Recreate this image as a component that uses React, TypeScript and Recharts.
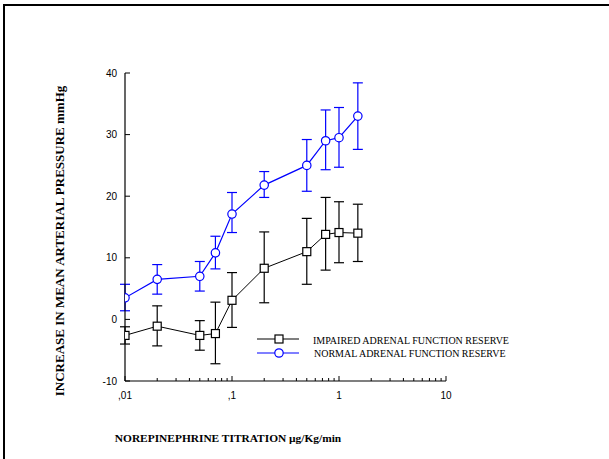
import React from 'react';
import { ComposedChart, Line, XAxis, YAxis, ErrorBar } from 'recharts';

const doses = [0.01, 0.02, 0.05, 0.07, 0.1, 0.2, 0.5, 0.75, 1, 1.5];

const normalMean = [3.5, 6.5, 7.0, 10.8, 17.1, 21.8, 25.0, 29.0, 29.5, 33.0];
const normalErrLow = [2.1, 2.4, 2.4, 2.6, 3.0, 2.0, 4.2, 4.7, 4.8, 5.4];
const normalErrHigh = [2.2, 2.4, 2.4, 2.7, 3.5, 2.2, 4.2, 5.0, 4.9, 5.4];

const impairedMean = [-2.6, -1.1, -2.6, -2.3, 3.1, 8.3, 11.0, 13.8, 14.1, 14.0];
const impairedErrLow = [1.4, 3.2, 2.4, 4.9, 4.4, 5.6, 5.3, 5.8, 4.9, 4.6];
const impairedErrHigh = [1.4, 3.3, 2.4, 5.1, 4.5, 5.9, 5.4, 6.0, 5.0, 4.7];

const xMajorTicks = [0.01, 0.1, 1, 10];
const xTickLabels = [',01', ',1', '1', '10'];
const xMinorTicks = [
  0.02, 0.03, 0.04, 0.05, 0.06, 0.07, 0.08, 0.09,
  0.2, 0.3, 0.4, 0.5, 0.6, 0.7, 0.8, 0.9,
  2, 3, 4, 5, 6, 7, 8, 9,
];
const yTicks = [-10, 0, 10, 20, 30, 40];

const seriesNames = ['IMPAIRED ADRENAL FUNCTION RESERVE', 'NORMAL ADRENAL FUNCTION RESERVE'];
const xAxisTitle = 'NOREPINEPHRINE TITRATION \u00b5g/Kg/min';
const yAxisTitle = 'INCREASE IN MEAN ARTERIAL  PRESSURE mmHg';

const BLUE = '#0000ff';

const data = doses.map((d, i) => ({
  dose: d,
  normal: normalMean[i],
  normalErr: [normalErrLow[i], normalErrHigh[i]],
  impaired: impairedMean[i],
  impairedErr: [impairedErrLow[i], impairedErrHigh[i]],
}));

const allXTicks = [...xMajorTicks, ...xMinorTicks].sort((a, b) => a - b);

const tickFont = '"Liberation Sans", Arial, sans-serif';
const serifFont = '"Liberation Serif", "Times New Roman", serif';

const XTick = (props: any) => {
  const { x, y, payload } = props;
  const v = payload.value;
  const idx = xMajorTicks.indexOf(v);
  const major = idx >= 0;
  return (
    <g>
      <line x1={x} x2={x} y1={y} y2={y - (major ? 5 : 3)} stroke="#000" strokeWidth={1} />
      {major && (
        <text x={x} y={y + 18} textAnchor="middle" fontSize={10} fontFamily={tickFont} fill="#000">
          {xTickLabels[idx]}
        </text>
      )}
    </g>
  );
};

const YTick = (props: any) => {
  const { x, y, payload } = props;
  return (
    <g>
      <line x1={x} x2={x + 5} y1={y} y2={y} stroke="#000" strokeWidth={1} />
      <text x={x - 8} y={y + 3.5} textAnchor="end" fontSize={10} fontFamily={tickFont} fill="#000">
        {String(payload.value)}
      </text>
    </g>
  );
};

const SquareDot = (props: any) => {
  const { cx, cy, index } = props;
  if (cx == null || cy == null) return <g key={`s-${index}`} />;
  return <rect key={`s-${index}`} x={cx - 4} y={cy - 4} width={8} height={8} fill="#fff" stroke="#000" strokeWidth={1.2} />;
};

const CircleDot = (props: any) => {
  const { cx, cy, index } = props;
  if (cx == null || cy == null) return <g key={`c-${index}`} />;
  return <circle key={`c-${index}`} cx={cx} cy={cy} r={4.2} fill="#fff" stroke={BLUE} strokeWidth={1.2} />;
};

const LegendBlock = () => (
  <g transform="translate(257 333)">
    <g>
      <line x1={0} x2={42} y1={6} y2={6} stroke="#000" strokeWidth={1.2} />
      <rect x={18} y={2} width={8} height={8} fill="#fff" stroke="#000" strokeWidth={1.2} />
      <text x={56} y={11} fontSize={10} fontFamily={serifFont} fill="#000">{seriesNames[0]}</text>
    </g>
    <g>
      <line x1={0} x2={42} y1={20} y2={20} stroke={BLUE} strokeWidth={1.2} />
      <circle cx={22} cy={20} r={4.2} fill="#fff" stroke={BLUE} strokeWidth={1.2} />
      <text x={57} y={24} fontSize={10} fontFamily={serifFont} fill="#000">{seriesNames[1]}</text>
    </g>
  </g>
);

export default function App() {
  return (
    <div style={{ position: 'absolute', left: 0, top: 0, width: 609, height: 459, background: '#fff' }}>
      <div
        style={{
          position: 'absolute',
          left: 3,
          top: 4,
          width: 606,
          height: 455,
          borderTop: '2px solid #000',
          borderLeft: '2px solid #000',
          boxSizing: 'border-box',
        }}
      />
      <ComposedChart
        width={609}
        height={459}
        data={data}
        margin={{ top: 73, right: 163, left: 85, bottom: 48 }}
        style={{ position: 'absolute', left: 0, top: 0 }}
      >
        <XAxis
          dataKey="dose"
          type="number"
          scale="log"
          domain={[0.01, 10]}
          ticks={allXTicks}
          interval={0}
          allowDataOverflow
          height={30}
          tickSize={0}
          tickMargin={0}
          tickLine={false}
          tick={<XTick />}
          axisLine={{ stroke: '#000', strokeWidth: 1.2 }}
        />
        <YAxis
          type="number"
          domain={[-10, 40]}
          ticks={yTicks}
          interval={0}
          allowDataOverflow
          width={40}
          tickSize={0}
          tickMargin={0}
          tickLine={false}
          tick={<YTick />}
          axisLine={{ stroke: '#000', strokeWidth: 1.2 }}
        />
        <Line
          dataKey="impaired"
          type="linear"
          stroke="#000"
          strokeWidth={1}
          dot={<SquareDot />}
          isAnimationActive={false}
          legendType="none"
        >
          <ErrorBar dataKey="impairedErr" width={5} stroke="#000" strokeWidth={1.2} direction="y" />
        </Line>
        <Line
          dataKey="normal"
          type="linear"
          stroke={BLUE}
          strokeWidth={1.2}
          dot={<CircleDot />}
          isAnimationActive={false}
          legendType="none"
        >
          <ErrorBar dataKey="normalErr" width={5} stroke={BLUE} strokeWidth={1.2} direction="y" />
        </Line>
        <LegendBlock />
        <text
          x={228}
          y={442}
          textAnchor="middle"
          fontSize={11.4}
          fontWeight="bold"
          fontFamily={serifFont}
          fill="#000"
        >
          {xAxisTitle}
        </text>
        <text
          x={64}
          y={241}
          transform="rotate(-90 64 241)"
          textAnchor="middle"
          fontSize={13}
          fontWeight="bold"
          fontFamily={serifFont}
          fill="#000"
        >
          {yAxisTitle}
        </text>
      </ComposedChart>
    </div>
  );
}
